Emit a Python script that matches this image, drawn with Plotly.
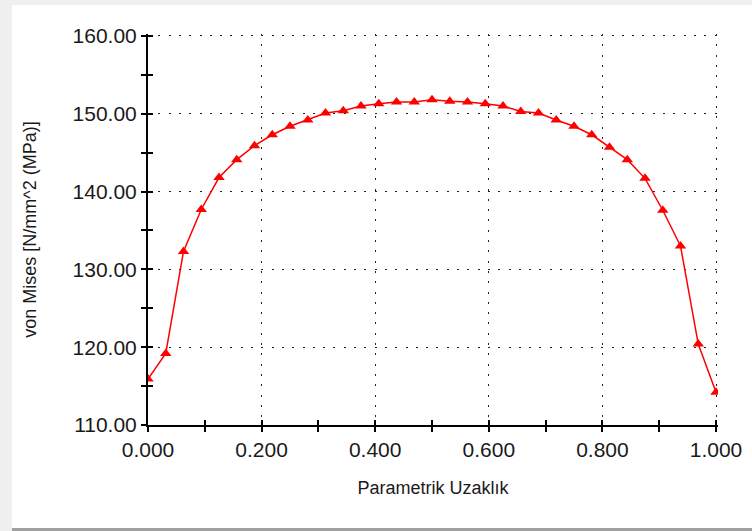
import plotly.graph_objects as go

# Data
param_dist = [0.0, 0.03125, 0.0625, 0.09375, 0.125, 0.15625, 0.1875, 0.21875,
              0.25, 0.28125, 0.3125, 0.34375, 0.375, 0.40625, 0.4375, 0.46875,
              0.5, 0.53125, 0.5625, 0.59375, 0.625, 0.65625, 0.6875, 0.71875,
              0.75, 0.78125, 0.8125, 0.84375, 0.875, 0.90625, 0.9375, 0.96875, 1.0]
von_mises = [115.9, 119.2, 132.3, 137.7, 141.8, 144.1, 145.9, 147.3,
             148.4, 149.2, 150.1, 150.4, 151.0, 151.3, 151.5, 151.5,
             151.8, 151.6, 151.5, 151.3, 151.0, 150.3, 150.1, 149.2,
             148.4, 147.3, 145.7, 144.1, 141.7, 137.6, 133.0, 120.4, 114.2]

x_title = "Parametrik Uzaklık"
y_title = "von Mises [N/mm^2 (MPa)]"

X_RANGE = [0, 1.0035]
Y_RANGE = [110, 160.25]

W, H = 752, 531
L, R, T, B = 148, 34, 34, 106
PW, PH = W - L - R, H - T - B

def px(x):
    return (x - L) / PW

def py(y):
    return (H - B - y) / PH

FONT = "Liberation Sans, Arial, sans-serif"
GRIDDASH = "2px,8.3px"

fig = go.Figure()
fig.add_trace(go.Scatter(
    x=param_dist, y=von_mises, mode="lines+markers",
    line=dict(color="#ff0000", width=1.5),
    marker=dict(symbol="triangle-up", size=10, color="#ff0000"),
    showlegend=False,
))
# invisible trace to bind the overlay axes (inner half of the crossing ticks)
fig.add_trace(go.Scatter(x=[param_dist[0]], y=[von_mises[0]], xaxis="x2", yaxis="y2",
                         mode="markers", marker=dict(opacity=0), showlegend=False))

fig.update_layout(
    width=W, height=H,
    margin=dict(l=L, r=R, t=T, b=B),
    paper_bgcolor="white",
    plot_bgcolor="white",
    font=dict(family=FONT, color="#1a1a1a"),
    xaxis=dict(
        range=X_RANGE, tick0=0, dtick=0.2, tickformat=".3f",
        showline=True, linecolor="black", linewidth=2,
        ticks="outside", ticklen=5, tickwidth=2, tickcolor="black",
        minor=dict(dtick=0.1, ticks="outside", ticklen=5, tickwidth=2, tickcolor="black", showgrid=False),
        showgrid=True, gridcolor="#222222", gridwidth=1, griddash=GRIDDASH,
        zeroline=False, tickfont=dict(size=21),
        title=dict(text=x_title, font=dict(size=18), standoff=21),
        automargin=False,
    ),
    yaxis=dict(
        range=Y_RANGE, tick0=110, dtick=10, tickformat=".2f",
        showline=True, linecolor="black", linewidth=2,
        ticks="outside", ticklen=5, tickwidth=2, tickcolor="black",
        minor=dict(dtick=5, ticks="outside", ticklen=5, tickwidth=2, tickcolor="black", showgrid=False),
        showgrid=True, gridcolor="#222222", gridwidth=1, griddash=GRIDDASH,
        zeroline=False, tickfont=dict(size=21),
        title=dict(text=y_title, font=dict(size=18), standoff=31),
        automargin=False,
    ),
    xaxis2=dict(
        overlaying="x", range=X_RANGE, anchor="y2",
        ticks="inside", ticklen=5, tickwidth=2, tickcolor="black",
        showticklabels=False, showgrid=False, zeroline=False,
        minor=dict(dtick=0.1, ticks="inside", ticklen=5, tickwidth=2, tickcolor="black"),
    ),
    yaxis2=dict(
        overlaying="y", range=Y_RANGE, anchor="x2", side="left",
        ticks="inside", ticklen=5, tickwidth=2, tickcolor="black",
        showticklabels=False, showgrid=False, zeroline=False,
        minor=dict(dtick=5, ticks="inside", ticklen=5, tickwidth=2, tickcolor="black"),
    ),
    shapes=[
        dict(type="rect", xref="paper", yref="paper", layer="above",
             x0=px(-2), x1=px(12), y0=py(533), y1=py(-2),
             fillcolor="#f0f0f0", line=dict(width=0)),
        dict(type="rect", xref="paper", yref="paper", layer="above",
             x0=px(-2), x1=px(W + 2), y0=py(5), y1=py(-2),
             fillcolor="#f0f0f0", line=dict(width=0)),
        dict(type="rect", xref="paper", yref="paper", layer="above",
             x0=px(12), x1=px(W + 2), y0=py(533), y1=py(528),
             fillcolor="#a0a0a0", line=dict(width=0)),
    ],
)

fig.write_html("out.html")
